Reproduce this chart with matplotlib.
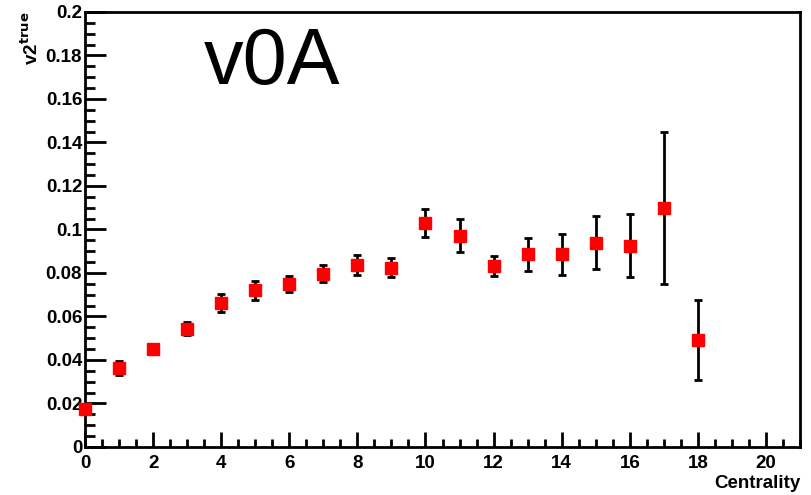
import matplotlib
matplotlib.use('Agg')
import matplotlib.pyplot as plt
import numpy as np
from matplotlib.ticker import MultipleLocator

# valores
centralidad = [0, 1, 2, 3, 4, 5, 6, 7, 8, 9, 10, 11, 12, 13, 14, 15, 16, 17, 18]
v2_true = [0.0175, 0.0363, 0.0452, 0.0543, 0.0662, 0.0720, 0.0748, 0.0797, 0.0837,
           0.0825, 0.1030, 0.0972, 0.0830, 0.0885, 0.0885, 0.0940, 0.0926, 0.1100, 0.0492]
errores = [0.0015, 0.0034, 0.0015, 0.0030, 0.0040, 0.0043, 0.0036, 0.0040, 0.0044,
           0.0044, 0.0065, 0.0074, 0.0046, 0.0074, 0.0094, 0.0122, 0.0145, 0.0350, 0.0184]

plt.rcParams['font.family'] = 'Liberation Sans'

fig = plt.figure(figsize=(8.11, 4.95), dpi=100)
ax = fig.add_axes([0.1048, 0.097, 0.8817, 0.8788])

ax.errorbar(centralidad, v2_true, yerr=errores, fmt='none', ecolor='black',
            elinewidth=2, capsize=3, capthick=2, zorder=2)
ax.plot(centralidad, v2_true, 's', color='#ff0000', markersize=8.5, zorder=3,
        clip_on=False)

ax.set_xlim(0, 21)
ax.set_ylim(0, 0.2)

ax.xaxis.set_major_locator(MultipleLocator(2))
ax.xaxis.set_minor_locator(MultipleLocator(0.5))
ax.yaxis.set_minor_locator(MultipleLocator(0.005))
ax.set_yticks(np.arange(0, 0.201, 0.02))
ax.set_yticklabels(['0', '0.02', '0.04', '0.06', '0.08', '0.1', '0.12', '0.14',
                    '0.16', '0.18', '0.2'])

for s in ax.spines.values():
    s.set_linewidth(2)

ax.tick_params(axis='x', which='major', direction='in', length=11, width=2,
               labelsize=13.5, pad=6)
ax.tick_params(axis='x', which='minor', direction='in', length=5.5, width=2)
ax.tick_params(axis='y', which='major', direction='in', length=15, width=2,
               labelsize=13.5, pad=2)
ax.tick_params(axis='y', which='minor', direction='in', length=7.5, width=2)
for lbl in ax.get_xticklabels() + ax.get_yticklabels():
    lbl.set_fontweight('bold')

ax.set_xlabel('Centrality', fontsize=13.5, fontweight='bold', loc='right', labelpad=2)
ax.set_ylabel(r'v2$^{\mathbf{true}}$', fontsize=13.5, fontweight='bold', loc='top',
              labelpad=0)
ax.yaxis.set_label_coords(-0.06, 1.0)

ax.text(0.166, 0.835, 'v0A', transform=ax.transAxes, fontsize=57, ha='left',
        va='baseline')

plt.savefig('out.png', dpi=100)
plt.close()
